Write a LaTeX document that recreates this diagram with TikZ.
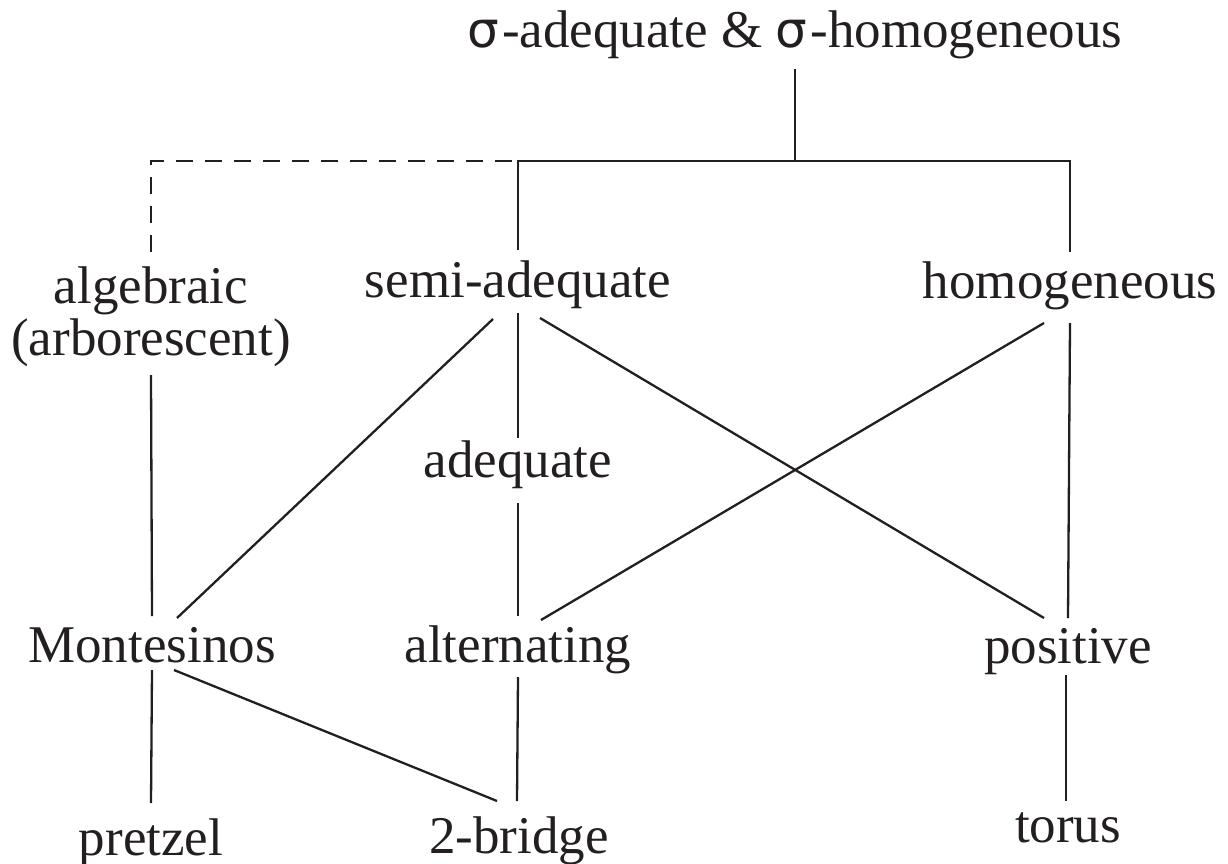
\documentclass[tikz,border=0pt]{standalone}
\usepackage{fontspec}
\setmainfont{Liberation Serif}
\newfontfamily\sigmafont{DejaVu Sans}
\newcommand{\mysig}{{\sigmafont\fontsize{50pt}{52pt}\selectfont σ}\kern3pt}
\definecolor{ink}{RGB}{35,31,32}
\begin{document}
\begin{tikzpicture}[x=1pt,y=-1pt,
  lbl/.style={font=\fontsize{53pt}{52pt}\selectfont, text=ink, inner sep=0pt, outer sep=0pt,
              anchor=base, text height=37pt, text depth=12pt},
  edge/.style={draw=ink, line width=2.3pt},
  dashedge/.style={edge, dash pattern=on 17pt off 12pt}]
\useasboundingbox (0,0) rectangle (1228,864);
% labels
\node[lbl] (top) at (795,48)  {\mysig-adequate \& \mysig-homogeneous};
\node[lbl] (alg) at (151,303) {algebraic};
\node[lbl] (arb) at (151,355) {(arborescent)};
\node[lbl] (sa)  at (518,297) {semi-adequate};
\node[lbl] (ho)  at (1070,298) {homogeneous};
\node[lbl] (ad)  at (518,477) {adequate};
\node[lbl] (mo)  at (152,662) {Montesinos};
\node[lbl] (al)  at (518,662) {alternating};
\node[lbl] (po)  at (1068,663) {positive};
\node[lbl] (pr)  at (151,855) {pretzel};
\node[lbl] (br)  at (519,853) {2-bridge};
\node[lbl] (to)  at (1068,842) {torus};
\coordinate (bar) at (795,161);
% top bracket
\draw[edge] ([shift={(0,9)}]top.south) -- (bar);
\draw[edge] ([shift={(0,-10)}]sa.north) |- (bar) -| ([shift={(0,-9)}]ho.north);
\draw[dashedge] ([shift={(0,-14)}]alg.north) |- (bar -| sa.north);
% connectors
\draw[edge] ([shift={(0,8)}]arb.south) -- ([shift={(0,-9)}]mo.north);
\draw[edge] ([shift={(-25,10)}]sa.south) -- ([shift={(25,-7)}]mo.north);
\draw[edge] ([shift={(0,4)}]sa.south) -- ([shift={(0,-2)}]ad.north);
\draw[edge] ([shift={(22,9)}]sa.south) -- ([shift={(-24,-8)}]po.north);
\draw[edge] ([shift={(-26,13)}]ho.south) -- ([shift={(23,-5)}]al.north);
\draw[edge] ([shift={(0,13)}]ho.south) -- ([shift={(0,-8)}]po.north);
\draw[edge] ([shift={(0,14)}]ad.south) -- ([shift={(0,-9)}]al.north);
\draw[edge] ([shift={(0,-4)}]mo.south) -- ([shift={(0,-15)}]pr.north);
\draw[edge] ([shift={(22,-4)}]mo.south) -- ([shift={(-22,-15)}]br.north);
\draw[edge] ([shift={(0,3)}]al.south) -- ([shift={(-2,-15)}]br.north);
\draw[edge] ([shift={(-2,0)}]po.south) -- ([shift={(-2,-4)}]to.north);
\end{tikzpicture}
\end{document}
